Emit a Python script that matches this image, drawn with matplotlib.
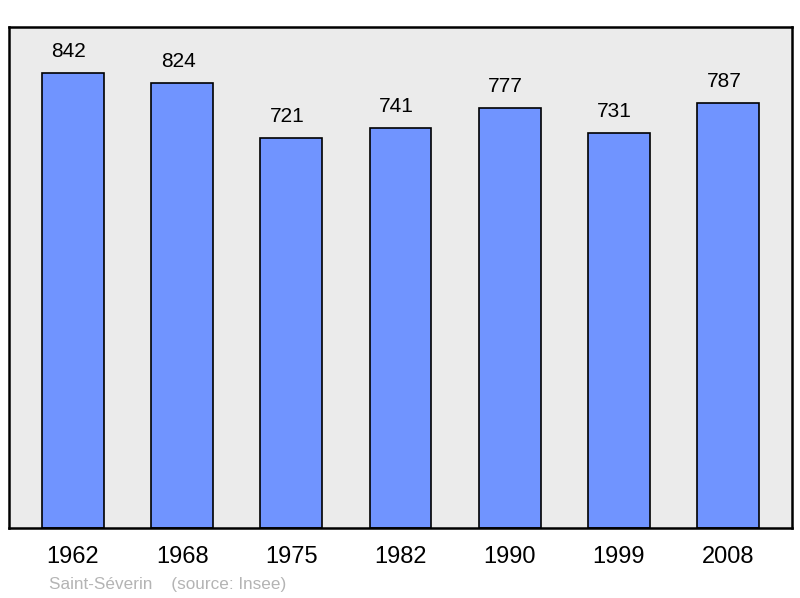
import matplotlib
matplotlib.use("Agg")
import matplotlib.pyplot as plt

# Population data
years = ["1962", "1968", "1975", "1982", "1990", "1999", "2008"]
population = [842, 824, 721, 741, 777, 731, 787]

plt.rcParams['font.family'] = ['Liberation Sans', 'DejaVu Sans']

fig = plt.figure(figsize=(8, 5.98), dpi=100)
ax = fig.add_axes([9 / 800, 1 - 528 / 598, 783 / 800, 501 / 598])
ax.set_facecolor("#ebebeb")

x = range(len(years))
bars = ax.bar(x, population, width=0.567, color="#7094ff",
              edgecolor="black", linewidth=1.2, zorder=2)

# Value labels above the bars (slightly left of centre, as in the original)
for xi, v in zip(x, population):
    ax.text(xi - 0.037, v + 22, str(v), ha="center", va="bottom", fontsize=15)

ax.set_xlim(-0.586, 6.586)
ax.set_ylim(0, 927)
ax.set_xticks(list(x))
ax.set_xticklabels(years, fontsize=17)
ax.tick_params(axis="x", length=0, pad=13)
ax.set_yticks([])

for s in ax.spines.values():
    s.set_linewidth(1.8)
    s.set_color("black")

fig.text(49 / 800, 1 - 584 / 598, "Saint-Séverin    (source: Insee)",
         fontsize=12.3, color="#b4b4b4", va="center", ha="left")

fig.savefig("out.png", dpi=100)
